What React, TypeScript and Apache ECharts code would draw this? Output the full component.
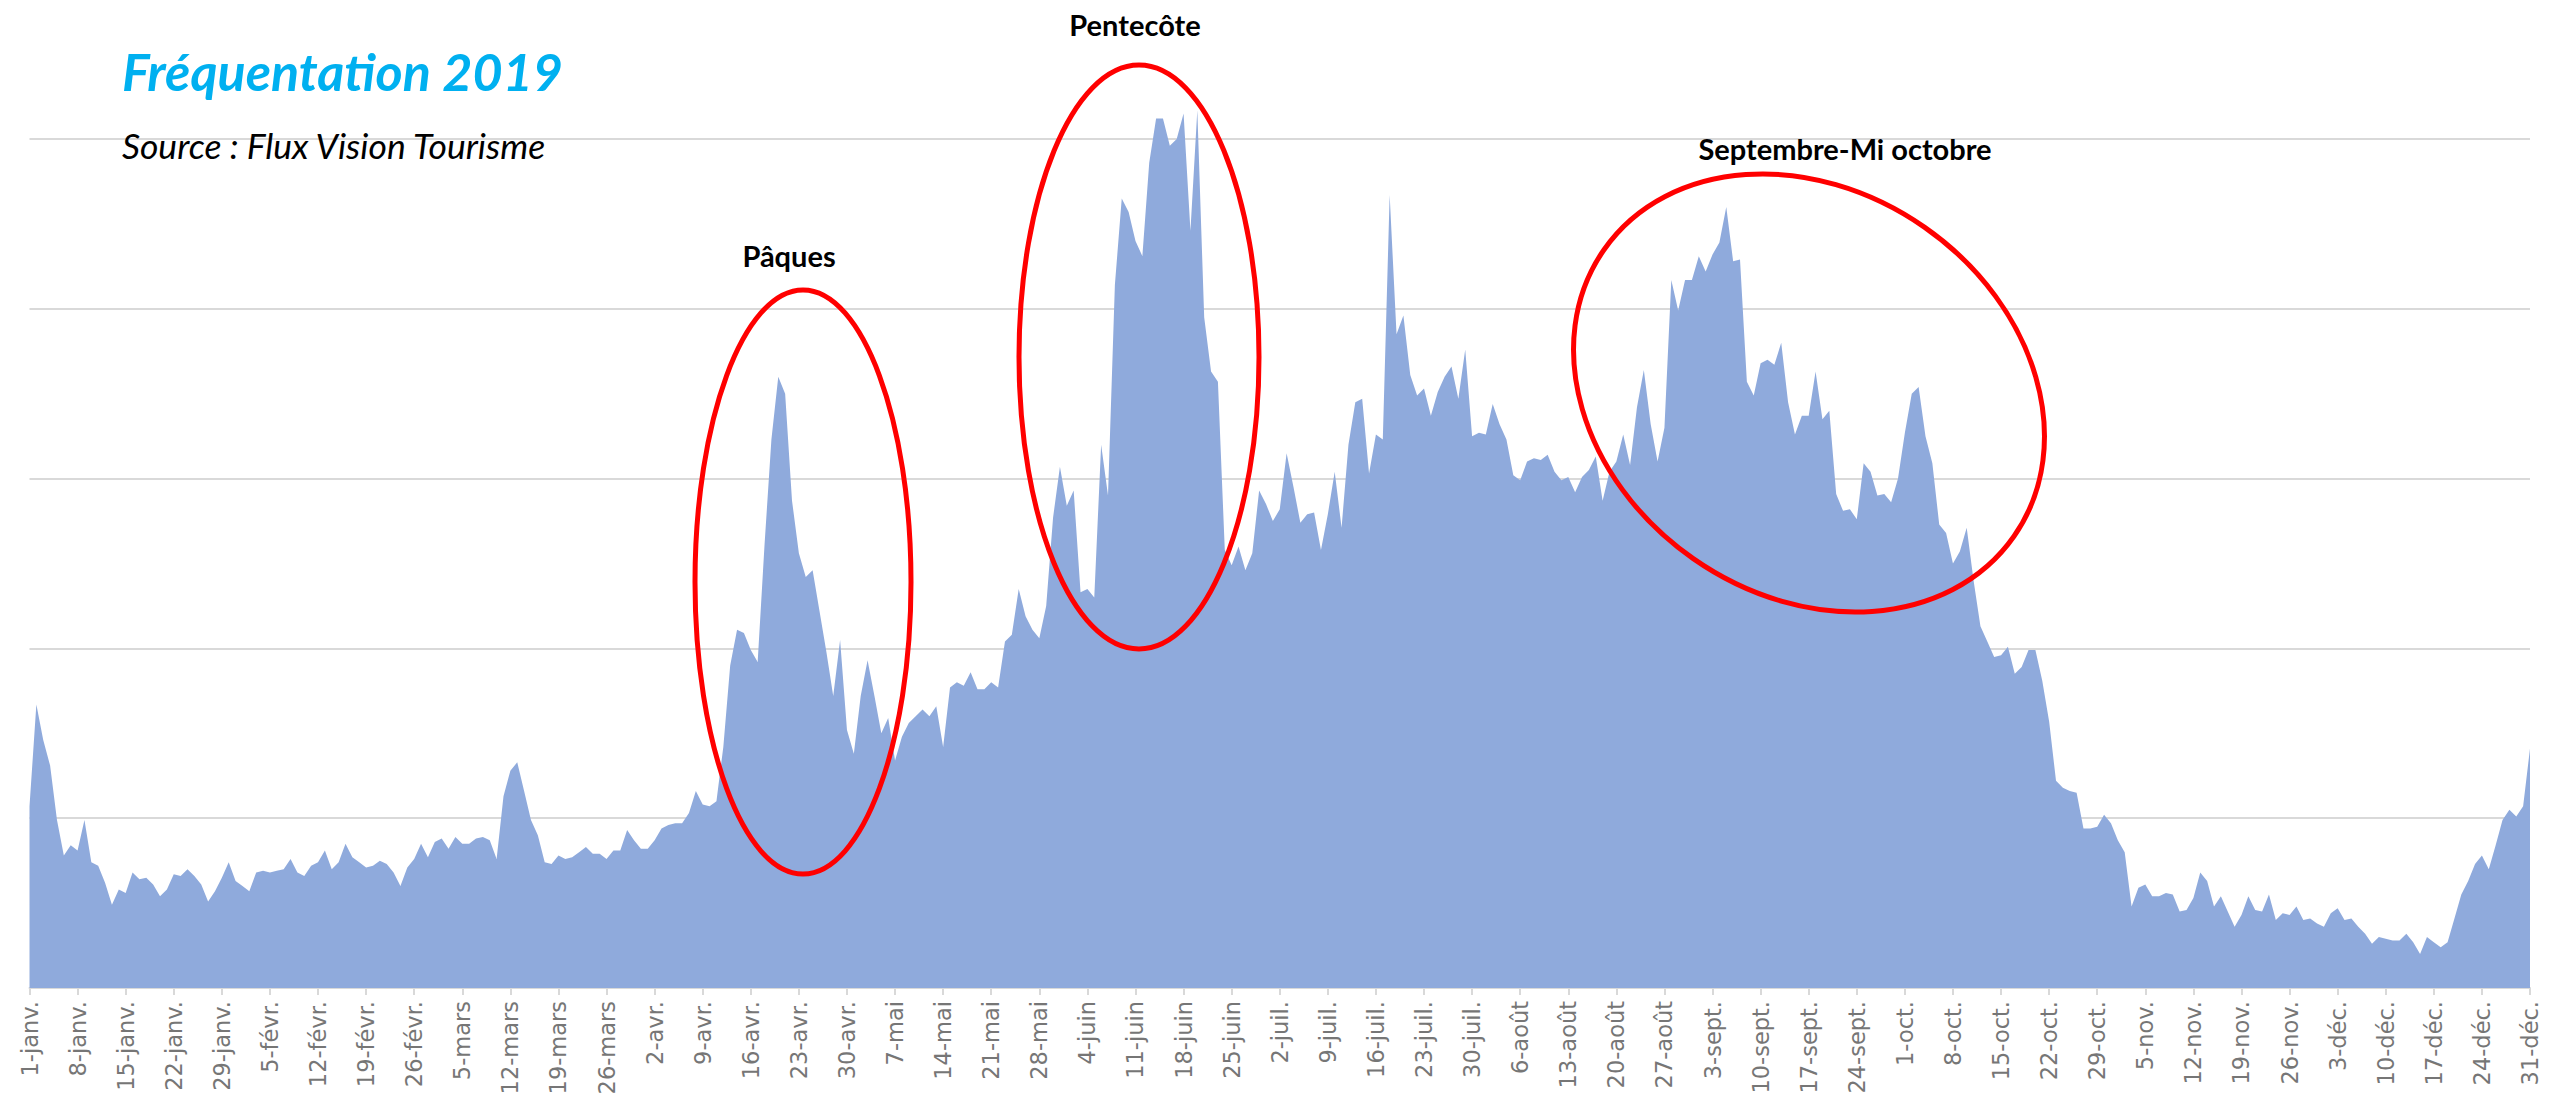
import React, { useEffect, useRef } from "react";
import * as echarts from "echarts";

// Daily attendance index (1 unit = 1 gridline step), 2019
const monthNames = ["janv.", "févr.", "mars", "avr.", "mai", "juin", "juil.", "août", "sept.", "oct.", "nov.", "déc."];

const jan = [1.07, 1.67, 1.46, 1.31, 0.99, 0.78, 0.84, 0.81, 0.99, 0.74, 0.72, 0.62, 0.49, 0.58, 0.56, 0.68, 0.64, 0.65, 0.61, 0.54, 0.58, 0.67, 0.66, 0.70, 0.66, 0.61, 0.51, 0.57, 0.65, 0.74, 0.63];
const feb = [0.60, 0.57, 0.68, 0.69, 0.68, 0.69, 0.70, 0.76, 0.68, 0.66, 0.72, 0.74, 0.81, 0.70, 0.74, 0.85, 0.77, 0.74, 0.71, 0.72, 0.75, 0.73, 0.68, 0.60, 0.71, 0.76, 0.85, 0.77];
const mar = [0.86, 0.88, 0.82, 0.89, 0.85, 0.85, 0.88, 0.89, 0.87, 0.76, 1.13, 1.28, 1.33, 1.16, 0.99, 0.90, 0.74, 0.73, 0.78, 0.76, 0.77, 0.80, 0.83, 0.79, 0.79, 0.76, 0.81, 0.81, 0.93, 0.87, 0.82];
const apr = [0.82, 0.87, 0.94, 0.96, 0.97, 0.97, 1.03, 1.16, 1.08, 1.07, 1.10, 1.42, 1.90, 2.11, 2.09, 1.99, 1.92, 2.61, 3.23, 3.60, 3.50, 2.87, 2.56, 2.42, 2.46, 2.22, 1.98, 1.72, 2.05, 1.52];
const may = [1.38, 1.72, 1.93, 1.72, 1.50, 1.59, 1.34, 1.48, 1.56, 1.60, 1.64, 1.60, 1.66, 1.42, 1.77, 1.80, 1.78, 1.86, 1.76, 1.76, 1.80, 1.77, 2.04, 2.08, 2.35, 2.19, 2.11, 2.06, 2.25, 2.77, 3.07];
const jun = [2.84, 2.93, 2.33, 2.35, 2.30, 3.20, 2.90, 4.14, 4.65, 4.57, 4.40, 4.31, 4.86, 5.12, 5.12, 4.96, 5.00, 5.15, 4.46, 5.17, 3.95, 3.63, 3.57, 2.58, 2.49, 2.60, 2.46, 2.56, 2.93, 2.85];
const jul = [2.75, 2.82, 3.15, 2.95, 2.74, 2.79, 2.80, 2.58, 2.79, 3.04, 2.71, 3.20, 3.45, 3.47, 3.03, 3.26, 3.23, 4.67, 3.85, 3.96, 3.61, 3.49, 3.53, 3.37, 3.51, 3.60, 3.66, 3.47, 3.76, 3.25, 3.27];
const aug = [3.26, 3.44, 3.32, 3.23, 3.02, 2.99, 3.10, 3.12, 3.11, 3.14, 3.04, 2.99, 3.01, 2.92, 3.01, 3.05, 3.13, 2.87, 3.04, 3.10, 3.26, 3.08, 3.42, 3.64, 3.32, 3.10, 3.30, 4.17, 3.99, 4.17, 4.17];
const sep = [4.31, 4.22, 4.32, 4.39, 4.60, 4.28, 4.29, 3.57, 3.49, 3.68, 3.70, 3.67, 3.80, 3.45, 3.26, 3.37, 3.37, 3.63, 3.35, 3.40, 2.91, 2.81, 2.82, 2.76, 3.09, 3.04, 2.90, 2.91, 2.86, 3.00];
const oct = [3.27, 3.50, 3.54, 3.25, 3.09, 2.73, 2.68, 2.50, 2.57, 2.71, 2.40, 2.13, 2.04, 1.95, 1.96, 2.01, 1.85, 1.89, 1.99, 1.99, 1.81, 1.57, 1.22, 1.18, 1.16, 1.15, 0.94, 0.94, 0.95, 1.02, 0.97];
const nov = [0.87, 0.80, 0.48, 0.59, 0.61, 0.54, 0.54, 0.56, 0.55, 0.45, 0.46, 0.53, 0.68, 0.63, 0.48, 0.54, 0.45, 0.36, 0.43, 0.54, 0.46, 0.45, 0.55, 0.40, 0.44, 0.43, 0.48, 0.40, 0.41, 0.38];
const dec = [0.36, 0.44, 0.47, 0.40, 0.41, 0.36, 0.32, 0.26, 0.30, 0.29, 0.28, 0.28, 0.32, 0.27, 0.20, 0.30, 0.27, 0.24, 0.27, 0.41, 0.55, 0.63, 0.73, 0.78, 0.70, 0.84, 0.99, 1.05, 1.01, 1.07, 1.41];

const months = [jan, feb, mar, apr, may, jun, jul, aug, sep, oct, nov, dec];
const categories: string[] = months.flatMap((m, mi) => m.map((_, di) => `${di + 1}-${monthNames[mi]}`));
const values: number[] = months.flat();

const titleText = "Fréquentation 2019";
const sourceText = "Source : Flux Vision Tourisme";
const annotationTexts = ["Pâques", "Pentecôte", "Septembre-Mi octobre"];

export default function App() {
  const ref = useRef<HTMLDivElement>(null);
  useEffect(() => {
    if (!ref.current) return;
    const chart = echarts.init(ref.current, null, { renderer: "svg" });
    const red = "#FF0000";
    chart.setOption({
      animation: false,
      backgroundColor: "#ffffff",
      grid: { left: 29.5, right: 22, top: 0, bottom: 107, containLabel: false, outerBoundsMode: "none" },
      xAxis: {
        type: "category",
        data: categories,
        boundaryGap: false,
        axisLine: { show: true, lineStyle: { color: "#d9d9d9", width: 2 } },
        axisTick: { show: true, interval: 6, length: 7, lineStyle: { color: "#d9d9d9", width: 2 } },
        axisLabel: {
          interval: 6,
          rotate: 90,
          margin: 13,
          color: "#767676",
          fontSize: 22.5,
          fontFamily: "DejaVu Sans",
        },
        splitLine: { show: false },
      },
      yAxis: {
        type: "value",
        min: 0,
        max: 5.8186,
        interval: 1,
        axisLabel: { show: false },
        axisLine: { show: false },
        axisTick: { show: false },
        splitLine: { show: true, showMaxLine: false, lineStyle: { color: "#d9d9d9", width: 2 } },
      },
      series: [
        {
          type: "line",
          data: values,
          symbol: "none",
          lineStyle: { width: 0, opacity: 0 },
          areaStyle: { color: "#8FAADC", opacity: 1 },
          z: 2,
        },
      ],
      graphic: [
        {
          type: "text",
          x: 122,
          y: 71,
          style: {
            text: titleText,
            fontFamily: "Lato",
            fontWeight: "bold",
            fontStyle: "italic",
            fontSize: 52,
            fill: "#00B0F0",
            align: "left",
            verticalAlign: "middle",
          },
          z: 10,
        },
        {
          type: "text",
          x: 122,
          y: 145,
          style: {
            text: sourceText,
            fontFamily: "Lato",
            fontStyle: "italic",
            fontSize: 35.5,
            fill: "#000000",
            align: "left",
            verticalAlign: "middle",
          },
          z: 10,
        },
        {
          type: "text",
          x: 789,
          y: 255,
          style: { text: annotationTexts[0], fontFamily: "Lato", fontWeight: "bold", fontSize: 29, fill: "#000", align: "center", verticalAlign: "middle" },
          z: 10,
        },
        {
          type: "text",
          x: 1135,
          y: 24,
          style: { text: annotationTexts[1], fontFamily: "Lato", fontWeight: "bold", fontSize: 29, fill: "#000", align: "center", verticalAlign: "middle" },
          z: 10,
        },
        {
          type: "text",
          x: 1845,
          y: 148,
          style: { text: annotationTexts[2], fontFamily: "Lato", fontWeight: "bold", fontSize: 29, fill: "#000", align: "center", verticalAlign: "middle" },
          z: 10,
        },
        {
          type: "ellipse",
          shape: { cx: 803, cy: 582, rx: 108, ry: 292 },
          style: { fill: "none", stroke: red, lineWidth: 5 },
          z: 10,
        },
        {
          type: "ellipse",
          shape: { cx: 1139, cy: 357, rx: 120, ry: 292 },
          style: { fill: "none", stroke: red, lineWidth: 5 },
          z: 10,
        },
        {
          type: "ellipse",
          x: 1809,
          y: 393,
          rotation: -0.61,
          shape: { cx: 0, cy: 0, rx: 250, ry: 202 },
          style: { fill: "none", stroke: red, lineWidth: 5 },
          z: 10,
        },
      ],
    });
    return () => chart.dispose();
  }, []);
  return (
    <div
      ref={ref}
      style={{ position: "fixed", left: 0, top: 0, width: 2552, height: 1095, background: "#fff" }}
    />
  );
}
